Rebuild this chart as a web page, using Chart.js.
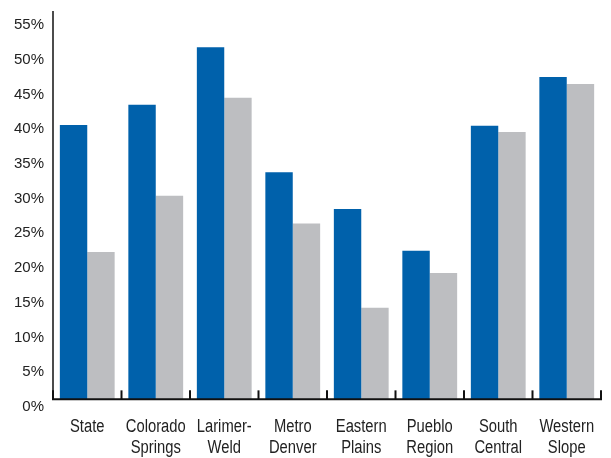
<!DOCTYPE html>
<html>
<head>
<meta charset="utf-8">
<script src="https://cdn.jsdelivr.net/npm/chart.js@4"></script>
<style>
  html, body { margin: 0; padding: 0; background: #fff; }
  #wrap { width: 611px; height: 458px; position: relative; }
</style>
</head>
<body>
<div id="wrap"><canvas id="regionChart"></canvas></div>
<script>
// regions along the x axis (two-line labels)
const categories = [
  ["State"], ["Colorado", "Springs"], ["Larimer-", "Weld"], ["Metro", "Denver"],
  ["Eastern", "Plains"], ["Pueblo", "Region"], ["South", "Central"], ["Western", "Slope"]
];
// percent values
const blueSeries = [40.6, 43.5, 51.8, 33.8, 28.5, 22.5, 40.5, 47.5];
const graySeries = [22.3, 30.4, 44.5, 26.4, 14.3, 19.3, 39.6, 46.5];
const yTicks = [0, 5, 10, 15, 20, 25, 30, 35, 40, 45, 50, 55];
const AXIS_BASE = 1.1; // the drawn x axis sits a bit above the 0% label

const BLUE = "#0061ab";
const GRAY = "#bdbec1";
const TEXT = "#222";

// axis lines + little tick marks between the categories
const axisLines = {
  id: "axisLines",
  afterDatasetsDraw(chart) {
    const { ctx, chartArea, scales: { x, y } } = chart;
    const baseY = y.getPixelForValue(AXIS_BASE);
    const step = (chartArea.right - chartArea.left) / categories.length;
    ctx.save();
    ctx.strokeStyle = "#111";
    ctx.lineWidth = 1.5;
    ctx.beginPath();
    ctx.moveTo(chartArea.left, chartArea.top);
    ctx.lineTo(chartArea.left, baseY);
    ctx.stroke();
    ctx.lineWidth = 2;
    ctx.beginPath();
    ctx.moveTo(chartArea.left - 1, baseY);
    ctx.lineTo(chartArea.right + 1, baseY);
    ctx.stroke();
    for (let i = 0; i <= categories.length; i++) {
      const px = x.getPixelForValue(0) - step / 2 + i * step;
      ctx.beginPath();
      ctx.moveTo(px, baseY);
      ctx.lineTo(px, baseY - 9);
      ctx.stroke();
    }
    ctx.restore();
  }
};

// condensed category labels (no narrow font installed, so squeeze horizontally)
const condensedLabels = {
  id: "condensedLabels",
  afterDraw(chart) {
    const { ctx, chartArea, scales: { x } } = chart;
    ctx.save();
    ctx.fillStyle = TEXT;
    ctx.font = "18px 'Liberation Sans', Arial, sans-serif";
    ctx.textAlign = "center";
    ctx.textBaseline = "middle";
    categories.forEach((lines, i) => {
      const cx = x.getPixelForValue(i);
      lines.forEach((txt, j) => {
        ctx.save();
        ctx.translate(cx, chartArea.bottom + 20 + j * 21);
        ctx.scale(0.82, 1);
        ctx.fillText(txt, 0, 0);
        ctx.restore();
      });
    });
    ctx.restore();
  }
};

const ctx = document.getElementById("regionChart").getContext("2d");
new Chart(ctx, {
  type: "bar",
  data: {
    labels: categories,
    datasets: [
      { data: blueSeries, backgroundColor: BLUE, base: AXIS_BASE, borderWidth: 0 },
      { data: graySeries, backgroundColor: GRAY, base: AXIS_BASE, borderWidth: 0 }
    ]
  },
  options: {
    responsive: true,
    maintainAspectRatio: false,
    animation: false,
    datasets: { bar: { categoryPercentage: 0.8, barPercentage: 1.0 } },
    layout: { padding: { left: 0, right: 10, top: 11, bottom: 0 } },
    plugins: { legend: { display: false }, tooltip: { enabled: false } },
    scales: {
      x: {
        grid: { display: false, drawTicks: false },
        border: { display: false },
        ticks: { display: false },
        afterFit: (scale) => { scale.height = 51; }
      },
      y: {
        min: 0,
        max: 57,
        grid: { display: false, drawTicks: false },
        border: { display: false },
        afterBuildTicks: (scale) => {
          scale.ticks = yTicks.map(v => ({ value: v }));
        },
        ticks: {
          color: TEXT,
          padding: 9,
          font: { family: "'Liberation Sans', sans-serif", size: 15 },
          callback: (v) => v + "%"
        },
        afterFit: (scale) => {
          scale.width = 53;
          scale.paddingTop = 0;
          scale.paddingBottom = 0;
        }
      }
    }
  },
  plugins: [axisLines, condensedLabels]
});
</script>
</body>
</html>
